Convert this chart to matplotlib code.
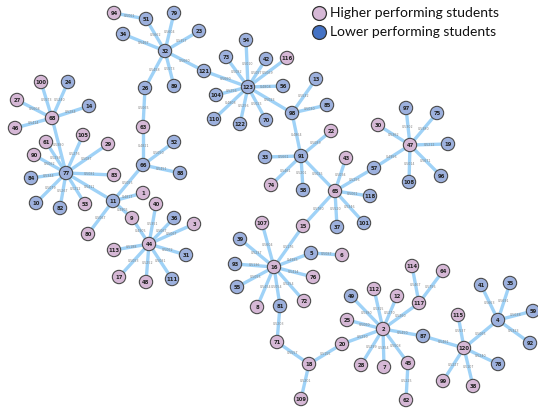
import matplotlib
matplotlib.use("Agg")
import matplotlib.pyplot as plt

# Student similarity network: node ids, layout positions and performance group
node_ids = ["94", "51", "79", "34", "32", "23", "121", "26", "89", "63",
            "100", "24", "27", "14", "68", "46", "105", "61", "29", "52",
            "90", "77", "66", "83", "84", "88", "1", "11", "10", "53",
            "82", "40", "9", "36", "3", "80", "44", "113", "31", "17",
            "48", "111", "54", "73", "42", "116", "123", "56", "104", "13",
            "85", "98", "110", "122", "70", "22", "33", "91", "43", "74",
            "58", "65", "57", "118", "101", "37", "97", "75", "30", "47",
            "19", "96", "108", "107", "15", "39", "5", "6", "93", "16",
            "76", "55", "72", "8", "81", "71", "18", "109", "20", "25",
            "49", "112", "12", "117", "114", "64", "2", "87", "28", "7",
            "45", "62", "115", "120", "99", "38", "78", "4", "41", "35",
            "59", "92"]
layout_x = [114, 146, 174, 123, 165, 199, 204, 145, 174, 143,
            41, 68, 17, 89, 52, 15, 83, 46, 108, 174,
            34, 66, 143, 114, 31, 180, 143, 113, 36, 85,
            60, 156, 132, 174, 194, 88, 149, 114, 186, 119,
            146, 172, 246, 226, 266, 287, 248, 283, 216, 316,
            327, 292, 214, 240, 266, 331, 265, 301, 346, 271,
            303, 335, 374, 370, 364, 337, 406, 437, 378, 410,
            448, 441, 409, 262, 303, 240, 311, 342, 235, 274,
            313, 237, 304, 257, 280, 277, 309, 301, 342, 347,
            351, 374, 397, 419, 412, 443, 383, 423, 361, 384,
            408, 406, 458, 464, 443, 473, 498, 498, 481, 510,
            533, 530]
layout_y = [13, 19, 13, 34, 51, 31, 71, 88, 86, 127,
            82, 82, 100, 106, 118, 128, 135, 142, 144, 142,
            155, 173, 165, 175, 178, 173, 193, 201, 203, 204,
            208, 204, 218, 218, 224, 234, 244, 250, 255, 277,
            282, 279, 40, 57, 59, 58, 87, 86, 95, 79,
            105, 113, 119, 124, 120, 131, 157, 156, 158, 185,
            190, 191, 168, 196, 223, 227, 108, 113, 125, 145,
            144, 176, 182, 223, 226, 239, 253, 255, 264, 267,
            277, 287, 301, 307, 306, 342, 364, 399, 344, 320,
            296, 289, 296, 303, 266, 271, 329, 336, 365, 367,
            363, 400, 315, 348, 381, 386, 364, 320, 285, 283,
            311, 343]
group = ["H", "L", "L", "L", "L", "L", "L", "L", "L", "H",
         "H", "L", "H", "L", "H", "H", "H", "H", "H", "L",
         "H", "L", "L", "H", "L", "L", "H", "L", "L", "H",
         "L", "H", "H", "L", "H", "H", "H", "H", "L", "H",
         "H", "L", "L", "L", "L", "H", "L", "L", "L", "L",
         "L", "L", "L", "L", "L", "H", "L", "L", "H", "H",
         "L", "H", "L", "L", "L", "L", "L", "L", "H", "H",
         "L", "L", "L", "H", "H", "L", "L", "H", "L", "H",
         "H", "L", "H", "H", "L", "H", "H", "H", "H", "H",
         "L", "H", "H", "H", "H", "H", "H", "L", "H", "H",
         "H", "H", "H", "H", "H", "H", "L", "L", "L", "L",
         "L", "L"]

# Edges (source, target) and their similarity weights
edge_src = ["32", "32", "32", "32", "32", "32", "32", "51", "26", "63",
            "121", "123", "123", "123", "123", "123", "123", "123", "123", "123",
            "123", "98", "98", "98", "91", "91", "91", "91", "91", "65",
            "65", "65", "65", "65", "65", "57", "47", "47", "47", "47",
            "47", "47", "15", "16", "16", "16", "16", "16", "16", "16",
            "16", "16", "5", "81", "71", "18", "18", "20", "2", "2",
            "2", "2", "2", "2", "2", "2", "2", "117", "117", "45",
            "87", "120", "120", "120", "120", "120", "4", "4", "4", "4",
            "66", "66", "66", "11", "11", "11", "11", "9", "68", "68",
            "68", "68", "68", "68", "77", "77", "77", "77", "77", "77",
            "77", "77", "77", "44", "44", "44", "44", "44", "44", "44",
            "44"]
edge_dst = ["51", "79", "34", "23", "121", "89", "26", "94", "63", "66",
            "123", "54", "73", "42", "116", "56", "104", "110", "122", "70",
            "98", "13", "85", "91", "22", "33", "74", "58", "65", "43",
            "57", "118", "101", "37", "15", "47", "30", "97", "75", "19",
            "96", "108", "16", "107", "39", "93", "5", "76", "55", "8",
            "81", "72", "6", "71", "18", "109", "20", "2", "49", "112",
            "12", "117", "25", "87", "28", "7", "45", "114", "64", "62",
            "120", "115", "99", "38", "78", "4", "41", "35", "59", "92",
            "52", "88", "11", "1", "77", "80", "9", "44", "100", "24",
            "27", "14", "46", "77", "61", "105", "29", "90", "84", "83",
            "10", "82", "53", "40", "36", "3", "113", "31", "17", "48",
            "111"]
edge_weight = [0.5662, 0.5604, 0.5467, 0.5357, 0.5660, 0.5573, 0.5458, 0.5061, 0.5065, 0.4821,
               0.5660, 0.5010, 0.5082, 0.5057, 0.5069, 0.4808, 0.5256, 0.4808, 0.5256, 0.5025,
               0.5023, 0.5532, 0.5030, 0.4864, 0.5089, 0.5661, 0.5461, 0.5201, 0.5025, 0.5094,
               0.5256, 0.5061, 0.5346, 0.5520, 0.5760, 0.4956, 0.5362, 0.5302, 0.5380, 0.5212,
               0.5671, 0.5014, 0.5176, 0.5604, 0.5237, 0.5136, 0.4985, 0.5414, 0.5055, 0.5454,
               0.5054, 0.5254, 0.5087, 0.5203, 0.5557, 0.5201, 0.5155, 0.5290, 0.5380, 0.5315,
               0.5270, 0.5260, 0.5060, 0.5450, 0.5299, 0.5354, 0.5508, 0.5467, 0.5756, 0.5225,
               0.5461, 0.5537, 0.5227, 0.5107, 0.5240, 0.5065, 0.5663, 0.5691, 0.5038, 0.5323,
               0.5050, 0.5451, 0.5055, 0.4817, 0.5411, 0.5067, 0.4905, 0.4905, 0.5573, 0.5240,
               0.5608, 0.5284, 0.5414, 0.5380, 0.5293, 0.5276, 0.5087, 0.5062, 0.5344, 0.5081,
               0.5079, 0.5267, 0.5212, 0.5351, 0.5067, 0.5067, 0.5188, 0.5062, 0.5053, 0.5252,
               0.5081]

legend_labels = ["Higher performing students", "Lower performing students"]

PINK = "#d6b8d6"
BLUE = "#9db1de"
LEGEND_BLUE = "#4472c4"
EDGE_COLOR = "#9fd2f7"

W, H = 538, 412
fig = plt.figure(figsize=(W / 100, H / 100), dpi=100)
ax = fig.add_axes([0, 0, 1, 1])
ax.set_xlim(0, W)
ax.set_ylim(H, 0)
ax.axis("off")

pos = {n: (x, y) for n, x, y in zip(node_ids, layout_x, layout_y)}

for s, t, w in zip(edge_src, edge_dst, edge_weight):
    (x1, y1), (x2, y2) = pos[s], pos[t]
    ax.plot([x1, x2], [y1, y2], color=EDGE_COLOR, lw=2.4,
            solid_capstyle="butt", zorder=1)
    ax.text((x1 + x2) / 2, (y1 + y2) / 2, f"{w:.4f}", fontsize=2.3,
            color="#808080", ha="center", va="center", zorder=2)

colors = [PINK if g == "H" else BLUE for g in group]
ax.scatter(layout_x, layout_y, s=92, c=colors, edgecolors="#4a4a4a",
           linewidths=0.8, zorder=3)
for n, x, y in zip(node_ids, layout_x, layout_y):
    ax.text(x, y + 0.3, n, fontsize=3.8, fontweight="bold", color="#222222",
            ha="center", va="center", zorder=4)

# Legend
for i, (lab, col) in enumerate(zip(legend_labels, [PINK, LEGEND_BLUE])):
    ly = 13 + 19 * i
    ax.scatter([319], [ly], s=100, c=[col], edgecolors="#333333",
               linewidths=0.9, zorder=3)
    ax.text(330, ly, lab, fontsize=10, family="Lato", color="#111111",
            ha="left", va="center")

fig.savefig("out.png", dpi=100)
